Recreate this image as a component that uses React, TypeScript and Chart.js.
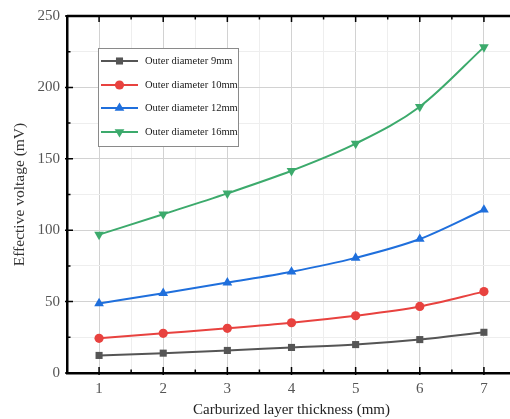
import React, { useEffect, useRef } from "react";
import { Chart, registerables } from "chart.js";

Chart.register(...registerables);

const thickness = [1, 2, 3, 4, 5, 6, 7];
const d9mm = [12.3, 13.9, 15.8, 17.9, 19.9, 23.4, 28.5];
const d10mm = [24.3, 27.8, 31.3, 35.2, 40.1, 46.6, 57.0];
const d12mm = [48.7, 55.9, 63.3, 70.9, 80.6, 93.8, 114.3];
const d16mm = [96.9, 111.2, 125.8, 141.6, 160.6, 186.5, 228.2];
const seriesNames = [
  "Outer diameter 9mm",
  "Outer diameter 10mm",
  "Outer diameter 12mm",
  "Outer diameter 16mm",
];
const yTitle = "Effective voltage (mV)";
const xTitle = "Carburized layer thickness (mm)";

const SERIF = "'Liberation Serif', 'Times New Roman', serif";

// Inward ticks on all four sides plus the top/right frame
const frameTicks = {
  id: "frameTicks",
  afterDraw(chart: any) {
    const { ctx, chartArea: a, scales } = chart;
    const xs = scales.x;
    const ys = scales.y;
    ctx.save();
    ctx.strokeStyle = "#000";
    ctx.lineWidth = 1.5;
    xs.ticks.forEach((t: any) => {
      const major = Number.isInteger(t.value);
      const len = major ? 6 : 3.5;
      const px = xs.getPixelForValue(t.value);
      ctx.beginPath();
      ctx.moveTo(px, a.bottom + (major ? 2 : 0));
      ctx.lineTo(px, a.bottom - len);
      ctx.moveTo(px, a.top);
      ctx.lineTo(px, a.top + len);
      ctx.stroke();
    });
    ys.ticks.forEach((t: any) => {
      const major = t.value % 50 === 0;
      const len = major ? 6 : 3.5;
      const py = ys.getPixelForValue(t.value);
      ctx.beginPath();
      ctx.moveTo(a.left - (major ? 2 : 0), py);
      ctx.lineTo(a.left + len, py);
      ctx.moveTo(a.right, py);
      ctx.lineTo(a.right - len, py);
      ctx.stroke();
    });
    ctx.lineWidth = 2.5;
    ctx.beginPath();
    ctx.moveTo(a.left, a.top);
    ctx.lineTo(a.right, a.top);
    ctx.lineTo(a.right, a.bottom);
    ctx.stroke();
    ctx.restore();
  },
};

function marker(ctx: CanvasRenderingContext2D, style: string, rot: number, r: number, x: number, y: number) {
  ctx.beginPath();
  if (style === "rect") {
    const s = r * Math.SQRT1_2;
    ctx.rect(x - s, y - s, 2 * s, 2 * s);
  } else if (style === "circle") {
    ctx.arc(x, y, r, 0, Math.PI * 2);
  } else {
    const base = rot === 180 ? Math.PI / 2 : -Math.PI / 2;
    for (let k = 0; k < 3; k++) {
      const ang = base + (k * 2 * Math.PI) / 3;
      const px = x + r * Math.cos(ang);
      const py = y + r * Math.sin(ang);
      if (k === 0) ctx.moveTo(px, py);
      else ctx.lineTo(px, py);
    }
    ctx.closePath();
  }
  ctx.fill();
}

// Boxed legend drawn inside the plot area
const boxLegend = {
  id: "boxLegend",
  afterDraw(chart: any) {
    const { ctx } = chart;
    const bx = 98, by = 48, bw = 140, bh = 98;
    ctx.save();
    ctx.fillStyle = "#fff";
    ctx.fillRect(bx, by, bw, bh);
    ctx.strokeStyle = "#8a8a8a";
    ctx.lineWidth = 1;
    ctx.strokeRect(bx + 0.5, by + 0.5, bw, bh);
    const rows = [61, 85, 108, 132];
    chart.data.datasets.forEach((ds: any, i: number) => {
      const y = rows[i];
      ctx.strokeStyle = ds.borderColor;
      ctx.lineWidth = 2;
      ctx.beginPath();
      ctx.moveTo(101, y);
      ctx.lineTo(138, y);
      ctx.stroke();
      ctx.fillStyle = ds.backgroundColor;
      marker(ctx, ds.pointStyle, ds.pointRotation || 0, ds.pointRadius, 119.5, y);
      ctx.fillStyle = "#1a1a1a";
      ctx.font = `10.5px ${SERIF}`;
      ctx.textBaseline = "middle";
      ctx.textAlign = "left";
      ctx.fillText(ds.label, 145, y + 0.5);
    });
    ctx.restore();
  },
};

export default function App() {
  const ref = useRef<HTMLCanvasElement>(null);

  useEffect(() => {
    if (!ref.current) return;
    const mk = (
      label: string,
      data: number[],
      color: string,
      style: string,
      radius: number,
      rotation = 0
    ) => ({
      label,
      data: data.map((v, i) => ({ x: thickness[i], y: v })),
      borderColor: color,
      backgroundColor: color,
      borderWidth: 2,
      pointStyle: style,
      pointRadius: radius,
      pointRotation: rotation,
      pointBorderWidth: 0,
      cubicInterpolationMode: "monotone" as const,
    });

    const chart = new Chart(ref.current, {
      type: "line",
      data: {
        datasets: [
          mk(seriesNames[0], d9mm, "#555555", "rect", 5),
          mk(seriesNames[1], d10mm, "#e8423f", "circle", 4.6),
          mk(seriesNames[2], d12mm, "#1f6fdc", "triangle", 5.6),
          mk(seriesNames[3], d16mm, "#3caa6c", "triangle", 5.6, 180),
        ],
      },
      options: {
        animation: false,
        responsive: false,
        events: [],
        layout: { padding: { left: 0, top: 13, right: 14, bottom: 0 } },
        plugins: {
          legend: { display: false },
          tooltip: { enabled: false },
        },
        scales: {
          x: {
            type: "linear",
            min: 0.5,
            max: 7.5,
            ticks: {
              stepSize: 0.5,
              autoSkip: false,
              maxRotation: 0,
              padding: 7,
              color: "#555",
              font: { family: SERIF, size: 15 },
              callback: (v: any) => (Number.isInteger(v) ? String(v) : ""),
            },
            grid: {
              drawTicks: false,
              color: (c: any) =>
                Number.isInteger(c.tick?.value) ? "#d2d2d2" : "#eeeeee",
              lineWidth: 1,
            },
            border: { color: "#000", width: 2.5 },
            title: {
              display: true,
              text: xTitle,
              color: "#222",
              font: { family: SERIF, size: 15 },
              padding: { top: 5, bottom: 0 },
            },
            afterFit: (s: any) => {
              s.height = 46;
            },
          },
          y: {
            min: 0,
            max: 250,
            ticks: {
              stepSize: 25,
              autoSkip: false,
              padding: 7,
              color: "#555",
              font: { family: SERIF, size: 15 },
              callback: (v: any) => (v % 50 === 0 ? String(v) : ""),
            },
            grid: {
              drawTicks: false,
              color: (c: any) =>
                c.tick && c.tick.value % 50 === 0 ? "#d2d2d2" : "#eeeeee",
              lineWidth: 1,
            },
            border: { color: "#000", width: 2.5 },
            title: {
              display: true,
              text: yTitle,
              color: "#333",
              font: { family: SERIF, size: 15.5 },
              padding: { top: 11, bottom: 0 },
            },
            afterFit: (s: any) => {
              s.width = 67;
            },
          },
        },
      },
      plugins: [frameTicks, boxLegend],
    } as any);
    return () => chart.destroy();
  }, []);

  // the plot frame extends a few pixels past the visible right edge
  return (
    <div
      style={{
        position: "fixed",
        left: 0,
        top: 0,
        width: 510,
        height: 419,
        overflow: "hidden",
        background: "#fff",
      }}
    >
      <canvas ref={ref} width={530} height={419} style={{ display: "block" }} />
    </div>
  );
}
